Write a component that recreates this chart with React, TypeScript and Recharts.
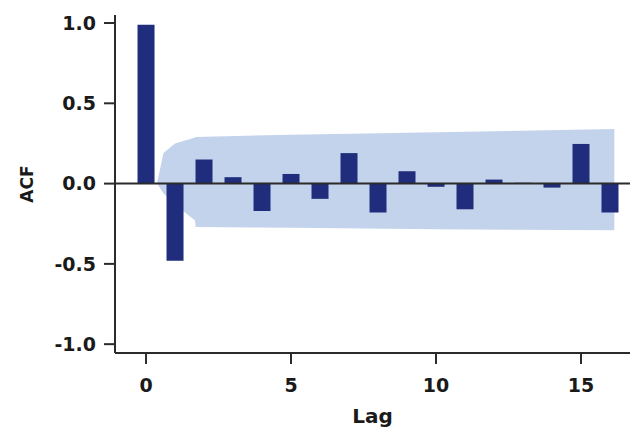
import {
  ComposedChart,
  Bar,
  Area,
  XAxis,
  YAxis,
  ReferenceLine,
} from "recharts";

// autocorrelation per lag
const lags = [0, 1, 2, 3, 4, 5, 6, 7, 8, 9, 10, 11, 12, 13, 14, 15, 16];
const acf = [0.99, -0.48, 0.15, 0.04, -0.17, 0.06, -0.095, 0.19, -0.18, 0.077, -0.02, -0.16, 0.025, 0.005, -0.025, 0.247, -0.18];

// confidence band
const bandLag = [0.38, 0.6, 1.0, 1.69, 1.71, 5, 10, 16.15];
const bandLow = [0, -0.06, -0.13, -0.23, -0.27, -0.275, -0.285, -0.29];
const bandHigh = [0, 0.19, 0.25, 0.287, 0.29, 0.305, 0.32, 0.34];

const xTicks = [0, 5, 10, 15];
const yTicks = [-1.0, -0.5, 0.0, 0.5, 1.0];

const data = lags.map((lag, i) => ({ lag, acf: acf[i] }));
const band = bandLag.map((lag, i) => ({ lag, range: [bandLow[i], bandHigh[i]] }));

const AXIS = "#2b2b2b";
const FONT = "'DejaVu Sans', sans-serif";
const X_DOMAIN: [number, number] = [-1.07, 16.69];
const tickStyle = { fill: "#1a1a1a", fontSize: 19, fontWeight: 700, fontFamily: FONT };

export default function App() {
  return (
    <div style={{ position: "absolute", left: 0, top: 0, background: "#fff" }}>
      <ComposedChart
        width={630}
        height={433}
        data={data}
        margin={{ top: 15, right: 0, bottom: 0, left: 0 }}
      >
        <XAxis
          dataKey="lag"
          type="number"
          domain={X_DOMAIN}
          ticks={xTicks}
          allowDataOverflow
          height={80}
          stroke={AXIS}
          strokeWidth={2}
          tickSize={11}
          tickMargin={15}
          tick={tickStyle}
          label={{
            value: "Lag",
            position: "insideBottom",
            offset: 10,
            style: { fill: "#1a1a1a", fontSize: 20, fontWeight: 700, fontFamily: FONT },
          }}
        />
        {/* separate axis for the band so its fractional lags don't shrink the bars */}
        <XAxis xAxisId="band" dataKey="lag" type="number" domain={X_DOMAIN} allowDataOverflow hide />
        <YAxis
          type="number"
          domain={[-1.055, 1.05]}
          ticks={yTicks}
          allowDataOverflow
          width={115}
          stroke={AXIS}
          strokeWidth={2}
          tickSize={11}
          tickMargin={8}
          tick={tickStyle}
          tickFormatter={(v: number) => v.toFixed(1)}
          label={{
            value: "ACF",
            angle: -90,
            position: "insideLeft",
            offset: 27,
            style: { fill: "#1a1a1a", fontSize: 17, fontWeight: 700, fontFamily: FONT, textAnchor: "middle" },
          }}
        />
        <Area
          xAxisId="band"
          data={band}
          dataKey="range"
          type="linear"
          fill="#c4d3ec"
          fillOpacity={1}
          stroke="none"
          isAnimationActive={false}
        />
        <ReferenceLine y={0} stroke={AXIS} strokeWidth={2} />
        <Bar dataKey="acf" fill="#1f2d7c" barSize={17} isAnimationActive={false} />
      </ComposedChart>
    </div>
  );
}
